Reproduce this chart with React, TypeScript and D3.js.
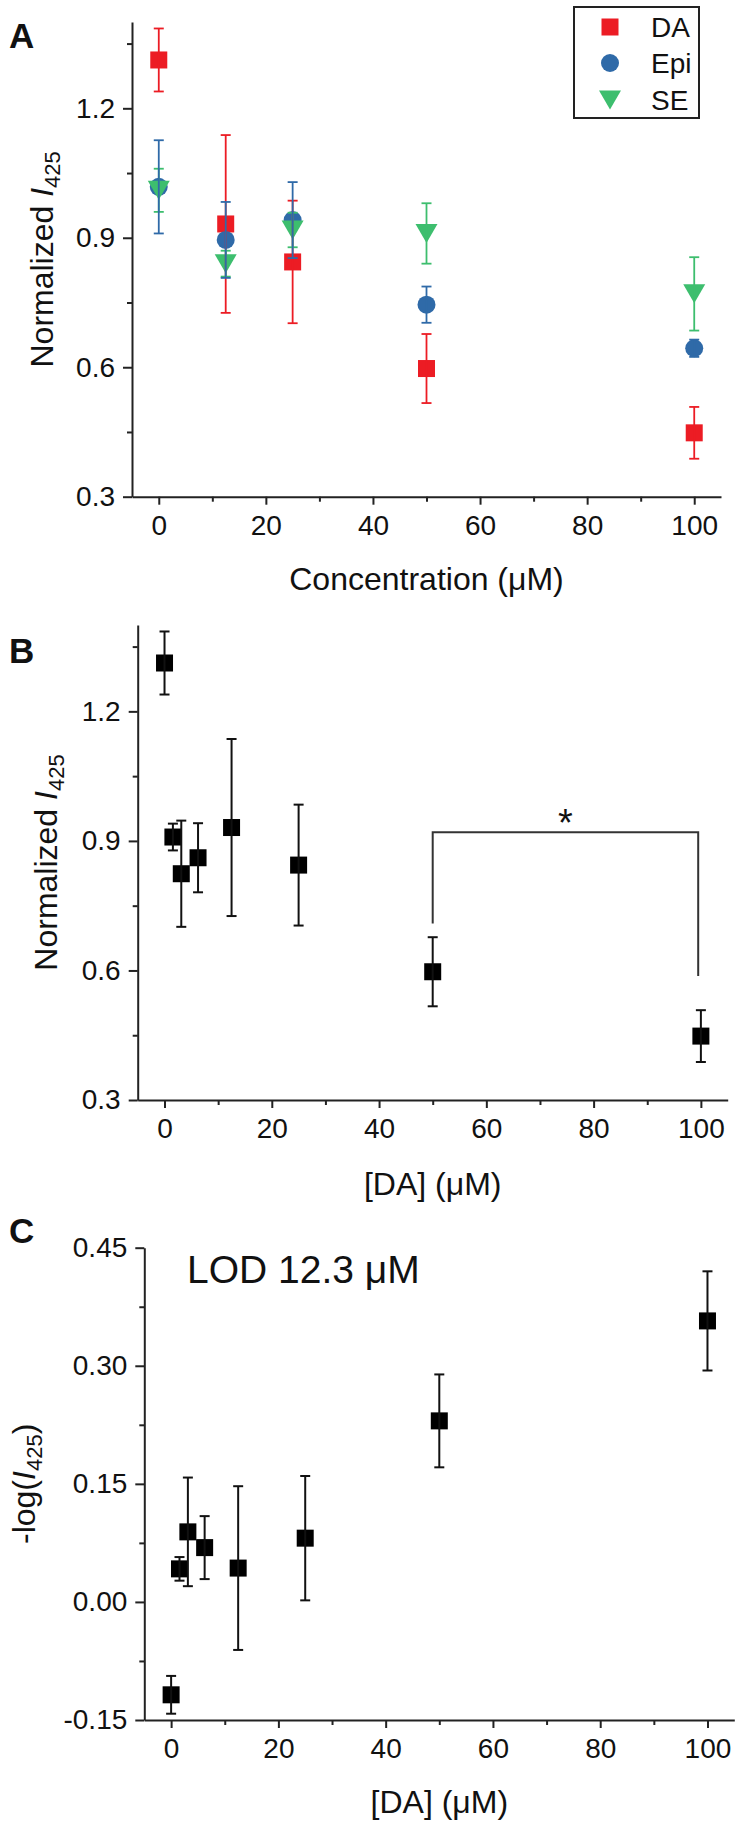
import React, { useRef, useEffect } from 'react';
import * as d3 from 'd3';

// Panel A: response to three analytes
const concA = [0, 12.5, 25, 50, 100];
const daMean = [1.312, 0.932, 0.844, 0.597, 0.448];
const daErr = [0.073, 0.206, 0.142, 0.08, 0.06];
const epiMean = [1.018, 0.895, 0.941, 0.745, 0.644];
const epiErr = [0.108, 0.088, 0.088, 0.042, 0.02];
const seMean = [1.01, 0.84, 0.918, 0.91, 0.77];
const seErr = [0.05, 0.03, 0.04, 0.07, 0.085];
const legendLabels = ['DA', 'Epi', 'SE'];

// Panels B and C: DA titration
const concDA = [0, 1.5625, 3.125, 6.25, 12.5, 25, 50, 100];
const normMean = [1.312, 0.909, 0.824, 0.861, 0.931, 0.844, 0.597, 0.448];
const normErr = [0.073, 0.031, 0.123, 0.08, 0.205, 0.14, 0.08, 0.06];
const logMean = [-0.118, 0.042, 0.089, 0.069, 0.043, 0.081, 0.23, 0.357];
const logErr = [0.024, 0.015, 0.069, 0.04, 0.104, 0.079, 0.059, 0.063];

// significance bracket in B: x ends, then y of left foot, top, right foot
const bracketX = [50, 99.5];
const bracketY = [0.709, 0.92, 0.587];
const bracketMark = '*';
const lodText = 'LOD 12.3 μM';

const xMajor = [0, 20, 40, 60, 80, 100];
const xMinor = [10, 30, 50, 70, 90];
const normMajor = [0.3, 0.6, 0.9, 1.2];
const normMinor = [0.45, 0.75, 1.05, 1.35];
const logMajor = [-0.15, 0, 0.15, 0.3, 0.45];
const logMinor = [-0.075, 0.075, 0.225, 0.375];

const FONT = '"Liberation Sans", Arial, Helvetica, sans-serif';
const AXIS = '#222';
const RED = '#ec1c24';
const BLUE = '#2f6aa8';
const GREEN = '#3dbe6e';

const triPath = 'M-11,-9.5L11,-9.5L0,9.5Z';

function drawAxes(g, x, y, yMajor, yMinor, yFmt) {
  const y0 = y.range()[0];
  const xa = g.append('g').attr('transform', `translate(0,${y0})`)
    .call(d3.axisBottom(x).tickValues(xMajor).tickSize(8).tickSizeOuter(0).tickPadding(10).tickFormat(d => String(d)));
  const xm = g.append('g').attr('transform', `translate(0,${y0})`)
    .call(d3.axisBottom(x).tickValues(xMinor).tickSize(5).tickSizeOuter(0).tickFormat(() => ''));
  xm.select('.domain').remove();

  const x0 = x.range()[0];
  const ya = g.append('g').attr('transform', `translate(${x0},0)`)
    .call(d3.axisLeft(y).tickValues(yMajor).tickSize(9).tickSizeOuter(0).tickPadding(8).tickFormat(yFmt));
  const ym = g.append('g').attr('transform', `translate(${x0},0)`)
    .call(d3.axisLeft(y).tickValues(yMinor).tickSize(5).tickSizeOuter(0).tickFormat(() => ''));
  ym.select('.domain').remove();

  [xa, xm, ya, ym].forEach(a => {
    a.selectAll('.domain, .tick line').attr('stroke', AXIS).attr('stroke-width', 2);
    a.selectAll('text').attr('font-family', FONT).attr('font-size', 28).attr('fill', '#111');
  });
}

function errorBars(g, x, y, xs, means, errs, color, width) {
  const eb = g.append('g').attr('stroke', color).attr('stroke-width', width);
  xs.forEach((c, i) => {
    const top = y(means[i] + errs[i]);
    const bot = y(means[i] - errs[i]);
    eb.append('line').attr('x1', x(c)).attr('x2', x(c)).attr('y1', top).attr('y2', bot);
    eb.append('line').attr('x1', x(c) - 5).attr('x2', x(c) + 5).attr('y1', top).attr('y2', top);
    eb.append('line').attr('x1', x(c) - 5).attr('x2', x(c) + 5).attr('y1', bot).attr('y2', bot);
  });
}

function squares(g, x, y, xs, means, color) {
  g.append('g').selectAll('rect').data(xs).join('rect')
    .attr('x', d => x(d) - 8.5).attr('y', (d, i) => y(means[i]) - 8.5)
    .attr('width', 17).attr('height', 17).attr('fill', color);
}

function yTitle(svg, bx, cy, pre, post) {
  const t = svg.append('text')
    .attr('transform', `translate(${bx},${cy}) rotate(-90)`)
    .attr('text-anchor', 'middle').attr('font-family', FONT).attr('font-size', 32).attr('fill', '#111');
  t.append('tspan').text(pre);
  t.append('tspan').attr('font-style', 'italic').text('I');
  t.append('tspan').attr('font-size', 22).attr('dy', 7).text('425');
  if (post) t.append('tspan').attr('dy', -7).text(post);
}

function xTitle(svg, x, by, parts) {
  svg.append('text').attr('x', (x.range()[0] + x.range()[1]) / 2).attr('y', by)
    .attr('text-anchor', 'middle').attr('font-family', FONT).attr('font-size', 32).attr('fill', '#111')
    .text(parts);
}

function panelLabel(svg, txt, by) {
  svg.append('text').attr('x', 9).attr('y', by).attr('font-family', FONT)
    .attr('font-size', 35).attr('font-weight', 'bold').attr('fill', '#111').text(txt);
}

export default function App() {
  const ref = useRef(null);

  useEffect(() => {
    const svg = d3.select(ref.current);
    svg.selectAll('*').remove();
    svg.append('rect').attr('width', 742).attr('height', 1830).attr('fill', '#fff');

    // ---- Panel A
    const xA = d3.scaleLinear().domain([-5, 105]).range([132, 721]);
    const yA = d3.scaleLinear().domain([0.3, 1.4]).range([496.7, 22]);
    const gA = svg.append('g');
    drawAxes(gA, xA, yA, normMajor, normMinor, d => d.toFixed(1));
    squares(gA, xA, yA, concA, daMean, RED);
    gA.append('g').selectAll('circle').data(concA).join('circle')
      .attr('cx', d => xA(d)).attr('cy', (d, i) => yA(epiMean[i])).attr('r', 9).attr('fill', BLUE);
    gA.append('g').selectAll('path').data(concA).join('path')
      .attr('d', triPath).attr('fill', GREEN)
      .attr('transform', (d, i) => `translate(${xA(d)},${yA(seMean[i])})`);
    errorBars(gA, xA, yA, concA, daMean, daErr, RED, 1.8);
    errorBars(gA, xA, yA, concA, seMean, seErr, GREEN, 1.8);
    errorBars(gA, xA, yA, concA, epiMean, epiErr, BLUE, 1.8);

    // legend
    const lg = svg.append('g');
    lg.append('rect').attr('x', 574).attr('y', 7).attr('width', 125).attr('height', 111)
      .attr('fill', 'none').attr('stroke', AXIS).attr('stroke-width', 2);
    const rowY = [27, 63, 100];
    lg.append('rect').attr('x', 610 - 8.5).attr('y', rowY[0] - 8.5).attr('width', 17).attr('height', 17).attr('fill', RED);
    lg.append('circle').attr('cx', 610).attr('cy', rowY[1]).attr('r', 9).attr('fill', BLUE);
    lg.append('path').attr('d', triPath).attr('fill', GREEN).attr('transform', `translate(610,${rowY[2]})`);
    legendLabels.forEach((l, i) => {
      lg.append('text').attr('x', 651).attr('y', rowY[i] + 10).attr('font-family', FONT)
        .attr('font-size', 28).attr('fill', '#111').text(l);
    });

    yTitle(svg, 53, (yA.range()[0] + yA.range()[1]) / 2, 'Normalized ', null);
    xTitle(svg, xA, 590, 'Concentration (μM)');
    panelLabel(svg, 'A', 48);

    // ---- Panel B
    const xB = d3.scaleLinear().domain([-5, 105]).range([137.7, 727.7]);
    const yB = d3.scaleLinear().domain([0.3, 1.4]).range([1100, 625]);
    const gB = svg.append('g');
    drawAxes(gB, xB, yB, normMajor, normMinor, d => d.toFixed(1));
    squares(gB, xB, yB, concDA, normMean, '#000');
    errorBars(gB, xB, yB, concDA, normMean, normErr, '#111', 2);

    const br = d3.line()([
      [xB(bracketX[0]), yB(bracketY[0])],
      [xB(bracketX[0]), yB(bracketY[1])],
      [xB(bracketX[1]), yB(bracketY[1])],
      [xB(bracketX[1]), yB(bracketY[2])],
    ]);
    gB.append('path').attr('d', br).attr('fill', 'none').attr('stroke', '#333').attr('stroke-width', 2);
    gB.append('text').attr('x', xB((bracketX[0] + bracketX[1]) / 2)).attr('y', yB(bracketY[1]) + 4)
      .attr('text-anchor', 'middle').attr('font-family', FONT).attr('font-size', 38).attr('fill', '#111')
      .text(bracketMark);

    yTitle(svg, 57, (yB.range()[0] + yB.range()[1]) / 2, 'Normalized ', null);
    xTitle(svg, xB, 1195, '[DA] (μM)');
    panelLabel(svg, 'B', 663);

    // ---- Panel C
    const xC = d3.scaleLinear().domain([-5, 105]).range([144.3, 734.3]);
    const yC = d3.scaleLinear().domain([-0.15, 0.45]).range([1720, 1247.7]);
    const gC = svg.append('g');
    drawAxes(gC, xC, yC, logMajor, logMinor, d => d.toFixed(2));
    squares(gC, xC, yC, concDA, logMean, '#000');
    errorBars(gC, xC, yC, concDA, logMean, logErr, '#111', 2);
    gC.append('text').attr('x', 187).attr('y', 1283).attr('font-family', FONT)
      .attr('font-size', 39).attr('fill', '#111').text(lodText);

    yTitle(svg, 35, (yC.range()[0] + yC.range()[1]) / 2, '-log(', ')');
    xTitle(svg, xC, 1813, '[DA] (μM)');
    panelLabel(svg, 'C', 1243);
  }, []);

  return (
    <svg ref={ref} width={742} height={1830}
      style={{ position: 'absolute', left: 0, top: 0, display: 'block' }} />
  );
}
